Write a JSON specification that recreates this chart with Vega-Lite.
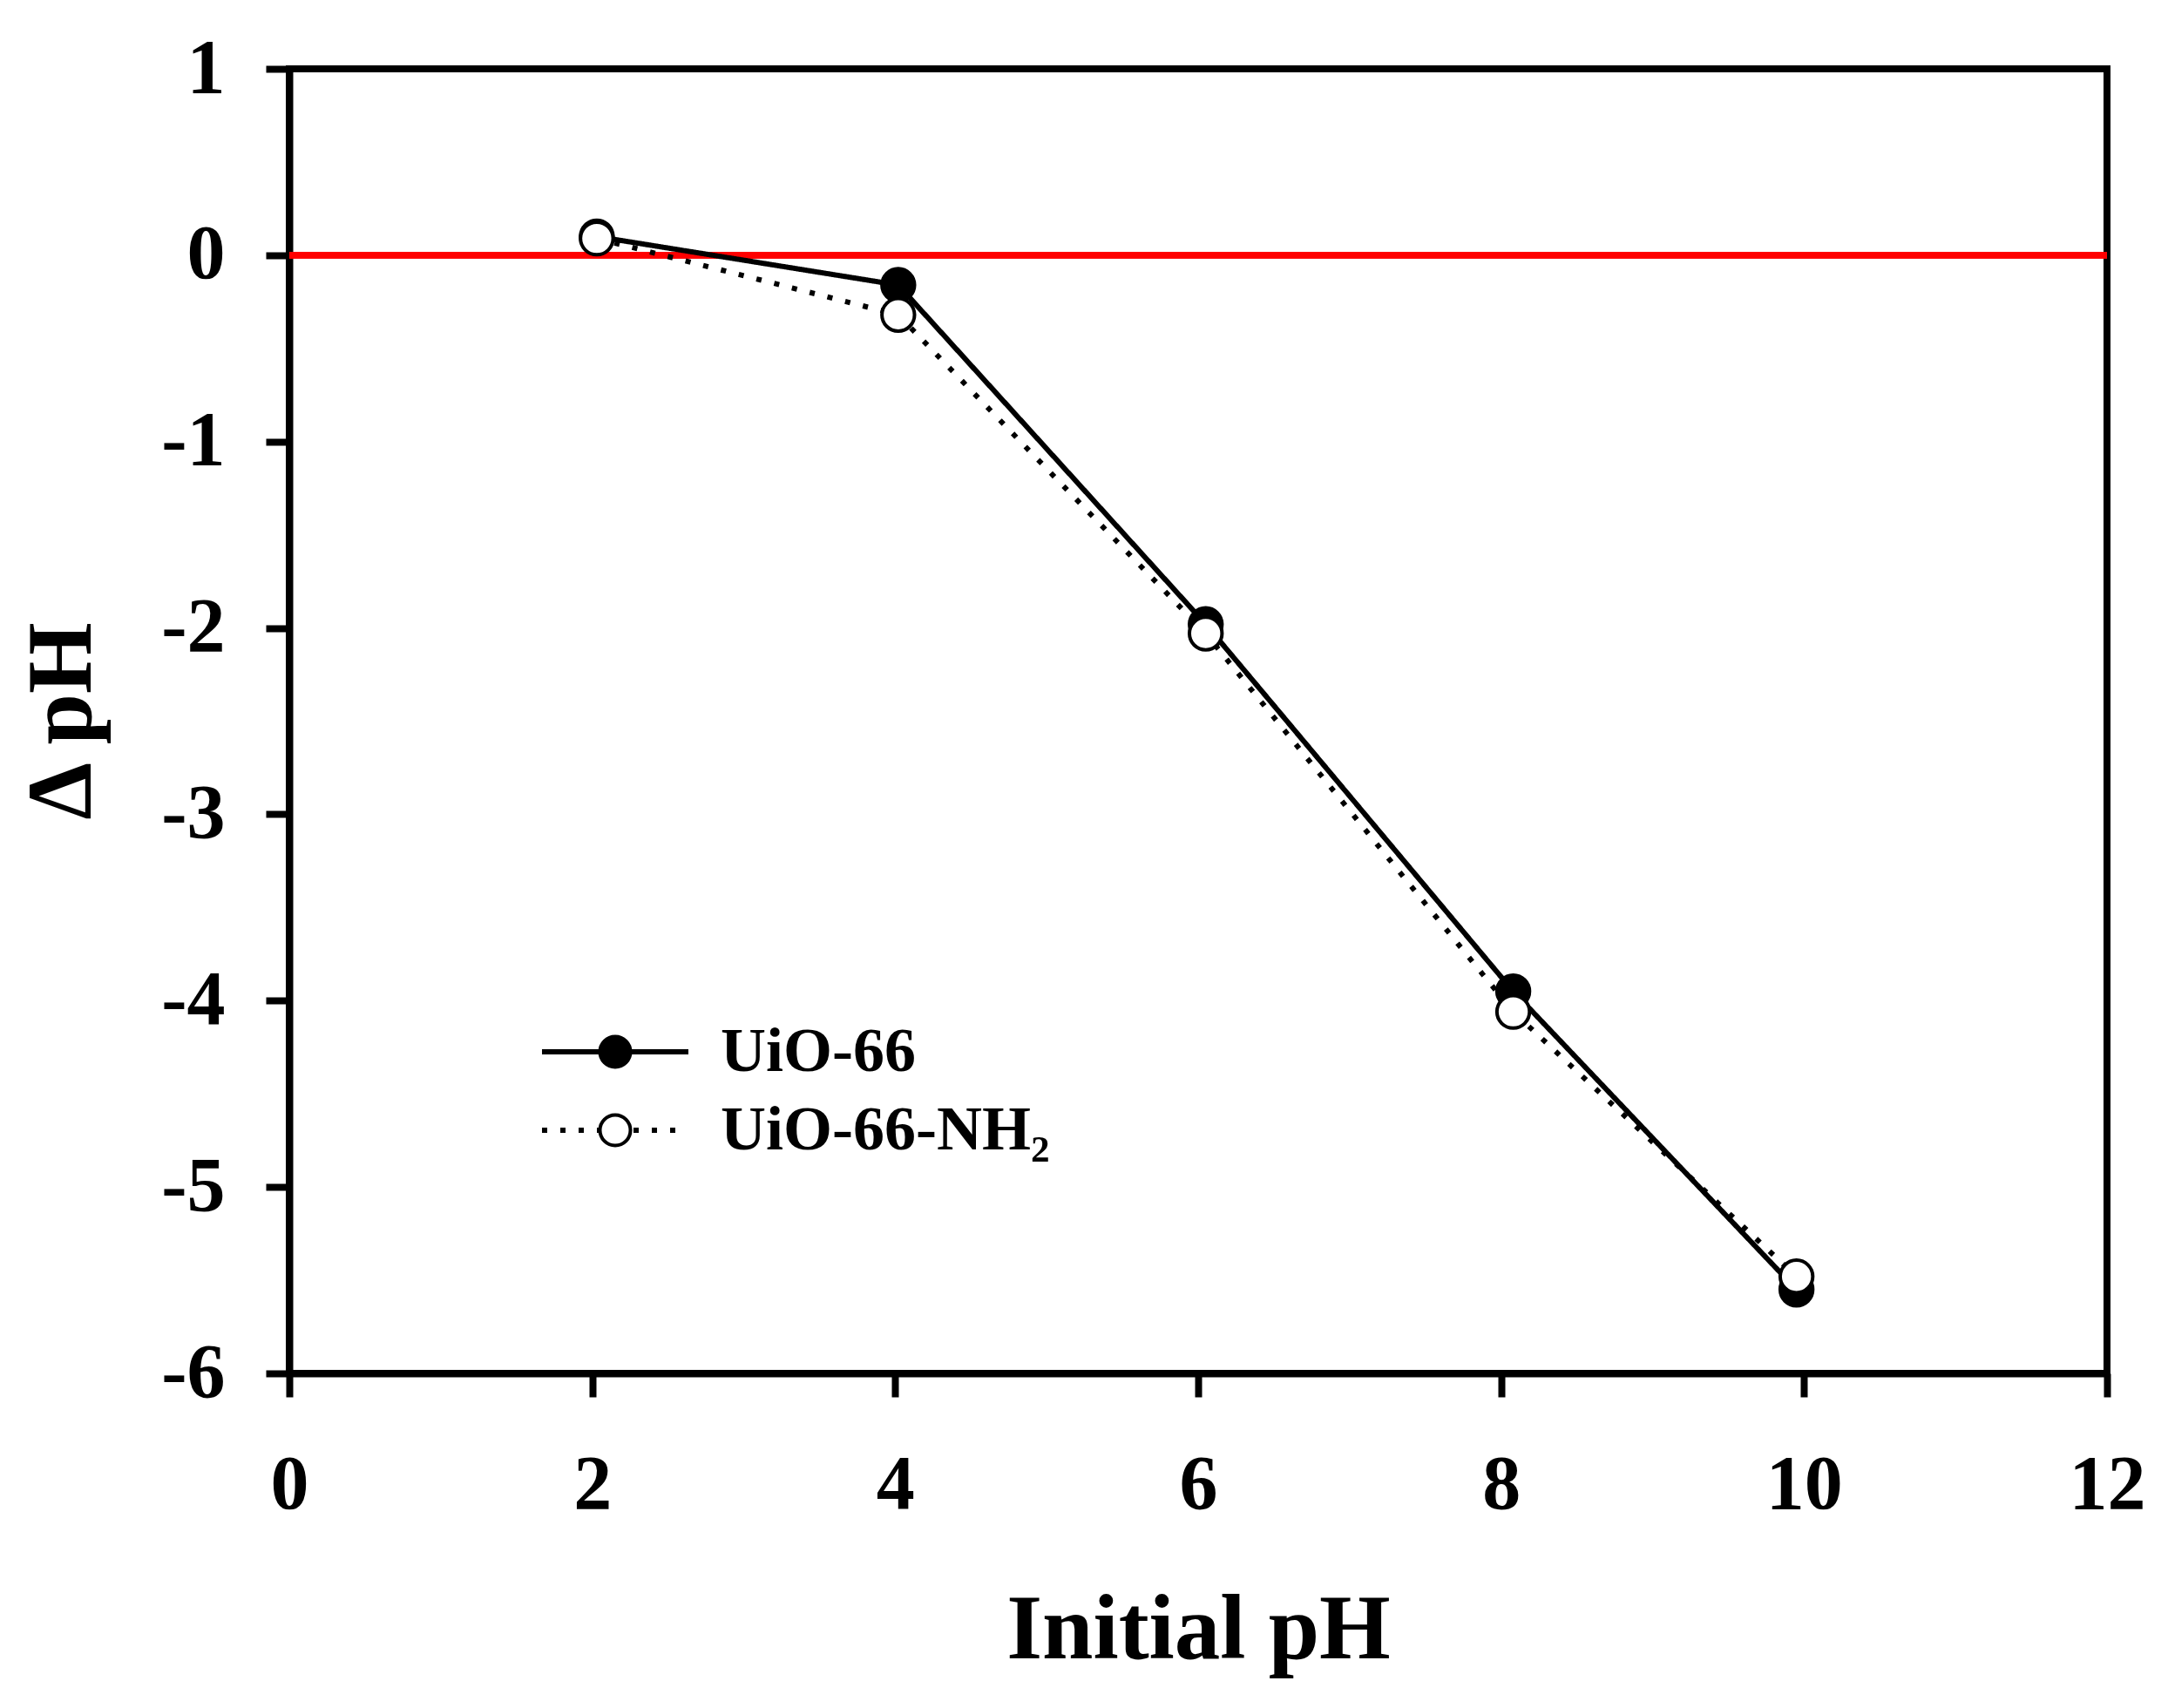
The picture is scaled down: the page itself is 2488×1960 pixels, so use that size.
{
  "$schema": "https://vega.github.io/schema/vega-lite/v6.json",
  "description": "Change of pH against initial pH for UiO-66 and UiO-66-NH2",
  "width": 2086,
  "height": 1497,
  "autosize": {"type": "none"},
  "padding": {"left": 332, "top": 79, "right": 70, "bottom": 384},
  "background": "white",
  "data": {
    "values": [
      {"series": "UiO-66", "ph": 2.03, "dph": 0.10},
      {"series": "UiO-66", "ph": 4.02, "dph": -0.16},
      {"series": "UiO-66", "ph": 6.05, "dph": -1.98},
      {"series": "UiO-66", "ph": 8.08, "dph": -3.95},
      {"series": "UiO-66", "ph": 9.95, "dph": -5.55},
      {"series": "UiO-66-NH₂", "ph": 2.03, "dph": 0.09},
      {"series": "UiO-66-NH₂", "ph": 4.02, "dph": -0.32},
      {"series": "UiO-66-NH₂", "ph": 6.05, "dph": -2.03},
      {"series": "UiO-66-NH₂", "ph": 8.08, "dph": -4.06},
      {"series": "UiO-66-NH₂", "ph": 9.95, "dph": -5.48}
    ]
  },
  "encoding": {
    "x": {
      "field": "ph",
      "type": "quantitative",
      "scale": {"domain": [0, 12], "nice": false},
      "axis": {
        "title": "Initial pH",
        "values": [0, 2, 4, 6, 8, 10, 12],
        "labelExpr": "'' + datum.value",
        "labelFlush": false,
        "tickSize": 27,
        "labelPadding": 57,
        "titleX": 1043,
        "titleY": 326,
        "titleBaseline": "alphabetic",
        "titleAlign": "center"
      }
    },
    "y": {
      "field": "dph",
      "type": "quantitative",
      "scale": {"domain": [-6, 1], "nice": false, "zero": false},
      "axis": {
        "title": "Δ pH",
        "values": [-6, -5, -4, -3, -2, -1, 0, 1],
        "labelExpr": "'' + datum.value",
        "labelFlush": false,
        "tickSize": 27,
        "labelPadding": 47,
        "titleX": -229,
        "titleY": 748,
        "titleAngle": -90,
        "titleBaseline": "alphabetic",
        "titleAlign": "center"
      }
    }
  },
  "layer": [
    {
      "mark": {"type": "rule", "color": "#ff0000", "strokeWidth": 7},
      "encoding": {
        "x": {"datum": 0},
        "x2": {"datum": 12},
        "y": {"datum": 0}
      }
    },
    {
      "mark": {"type": "line", "color": "black", "strokeWidth": 6},
      "encoding": {
        "strokeDash": {
          "field": "series",
          "type": "nominal",
          "scale": {"range": [[1, 0], [6, 15]]},
          "legend": {
            "orient": "none",
            "legendX": 338,
            "legendY": 1092,
            "title": null,
            "symbolType": "M-4.8,0H4.8",
            "symbolSize": 1225,
            "symbolStrokeColor": "black",
            "symbolStrokeWidth": 6,
            "symbolFillColor": "transparent",
            "labelOffset": 85,
            "rowPadding": 18,
            "labelOpacity": 0,
            "zindex": 1
          }
        }
      }
    },
    {
      "mark": {"type": "point", "shape": "circle", "size": 1400, "stroke": "black", "strokeWidth": 4, "opacity": 1},
      "encoding": {
        "fill": {
          "field": "series",
          "type": "nominal",
          "scale": {"domain": ["UiO-66", "UiO-66-NH₂"], "range": ["black", "white"]},
          "legend": {
            "orient": "none",
            "legendX": 338,
            "legendY": 1092,
            "title": null,
            "symbolType": "circle",
            "symbolSize": 1225,
            "symbolStrokeColor": "black",
            "symbolStrokeWidth": 4,
            "symbolOpacity": 1,
            "labelOffset": 85,
            "rowPadding": 18,
            "zindex": 2
          }
        }
      }
    }
  ],
  "config": {
    "view": {"stroke": "black", "strokeWidth": 8},
    "axis": {
      "grid": false,
      "domainColor": "black",
      "domainWidth": 8,
      "tickColor": "black",
      "tickWidth": 8,
      "labelFont": "Liberation Serif",
      "labelFontWeight": "bold",
      "labelFontSize": 88,
      "labelColor": "black",
      "titleFont": "Liberation Serif",
      "titleFontWeight": "bold",
      "titleFontSize": 105,
      "titleColor": "black"
    },
    "legend": {
      "labelFont": "Liberation Serif",
      "labelFontWeight": "bold",
      "labelFontSize": 72,
      "labelColor": "black",
      "labelLimit": 0,
      "padding": 0
    }
  }
}
